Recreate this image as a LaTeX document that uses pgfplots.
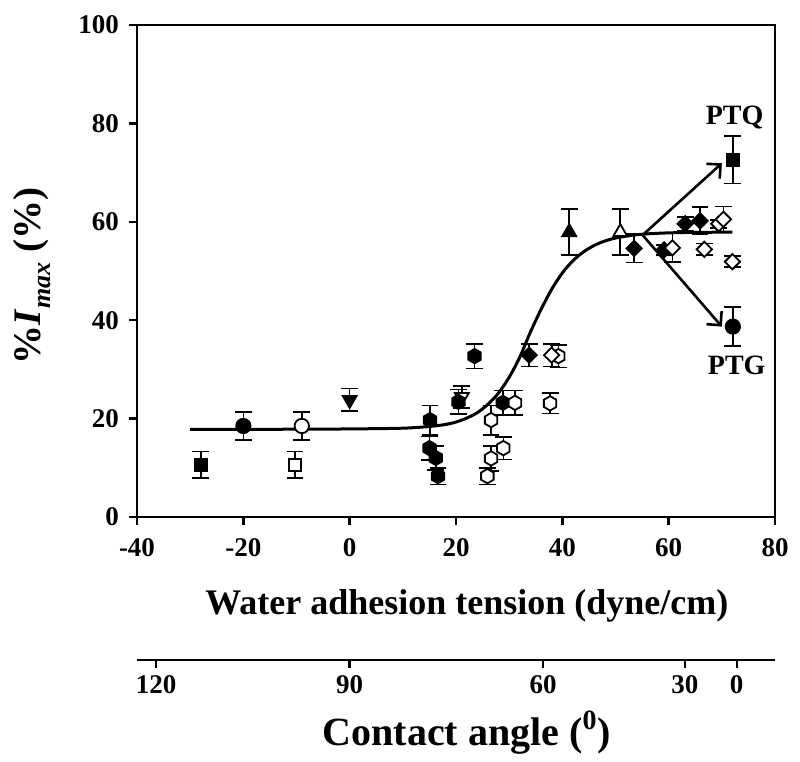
\documentclass[border=0pt]{standalone}
\usepackage{pgfplots}
\pgfplotsset{compat=1.18}
\usepackage{pgfplotstable}
\usepackage{fontspec}
\setmainfont{Liberation Serif}
\usetikzlibrary{arrows.meta}

\pgfdeclareplotmark{hexagon*}{%
  \pgfpathmoveto{\pgfpointpolar{90}{\pgfplotmarksize}}%
  \pgfpathlineto{\pgfpointpolar{150}{\pgfplotmarksize}}%
  \pgfpathlineto{\pgfpointpolar{210}{\pgfplotmarksize}}%
  \pgfpathlineto{\pgfpointpolar{270}{\pgfplotmarksize}}%
  \pgfpathlineto{\pgfpointpolar{330}{\pgfplotmarksize}}%
  \pgfpathlineto{\pgfpointpolar{30}{\pgfplotmarksize}}%
  \pgfpathclose
  \pgfusepathqfillstroke}

\pgfplotstableread{
x y e
-28.0 10.6 2.7
72.07 72.6 4.8
}\fsquare
\pgfplotstableread{
x y e
-10.3 10.6 2.7
}\osquare
\pgfplotstableread{
x y e
-20.0 18.5 2.9
72.07 38.7 4.0
}\fcircle
\pgfplotstableread{
x y e
-9.0 18.5 2.9
}\ocircle
\pgfplotstableread{
x y e
0.0 23.8 2.3
}\fdown
\pgfplotstableread{
x y e
21.1 24.4 2.2
}\odown
\pgfplotstableread{
x y e
15.1 19.7 3.0
15.0 14.0 2.4
16.2 12.0 2.4
16.6 8.3 1.7
20.45 23.4 2.5
23.5 32.7 2.5
28.8 23.2 2.5
}\fhex
\pgfplotstableread{
x y e
26.6 19.7 3.0
26.6 11.9 2.5
28.9 14.0 2.3
25.9 8.3 1.7
31.1 23.2 2.5
39.25 32.7 2.3
37.7 23.1 2.1
}\ohex
\pgfplotstableread{
x y e
33.75 32.9 2.3
53.5 54.6 2.9
59.15 54.3 1.0
63.1 59.6 1.35
65.9 60.2 2.8
}\fdiam
\pgfplotstableread{
x y e
38.0 32.9 2.3
60.7 54.7 2.9
66.7 54.4 1.2
69.4 59.6 0.8
70.3 60.5 2.6
72.0 51.9 1.1
}\odiam
\pgfplotstableread{
x y e
41.3 57.9 4.7
}\fup
\pgfplotstableread{
x y e
50.9 57.9 4.7
}\oup

\pgfplotsset{
  pts/.style={only marks, black, line width=0.9pt,
    error bars/y dir=both, error bars/y explicit,
    error bars/error bar style={line width=0.8pt, black},
    error bars/error mark options={rotate=90, line width=0.8pt, mark size=4.2pt, black}},
}

\begin{document}
\begin{tikzpicture}
\path (-68.5pt,-122.5pt) rectangle (331.5pt,258.5pt);
\begin{axis}[
  at={(0,0)}, anchor=south west,
  scale only axis, width=319pt, height=246pt,
  xmin=-40, xmax=80, ymin=0, ymax=100,
  xtick={-40,-20,0,20,40,60,80}, xticklabels={-40,-20,0,20,40,60,80},
  ytick={0,20,40,60,80,100}, yticklabels={0,20,40,60,80,100},
  tick align=outside, tick pos=left,
  major tick length=4pt,
  axis line style={line width=1.4pt},
  every tick/.style={black, line width=1.2pt},
  tick label style={font=\fontsize{13.5}{14}\selectfont\bfseries},
  xticklabel style={yshift=-3pt},
  yticklabel style={xshift=-1.5pt},
  xlabel={Water adhesion tension (dyne/cm)},
  xlabel style={font=\fontsize{18}{20}\selectfont\bfseries, at={(axis description cs:0.517,-0.199)}, anchor=base},
  ylabel={\%\textit{I}\raisebox{-0.55ex}{\fontsize{13}{13}\selectfont\textit{max}} (\%)},
  ylabel style={font=\fontsize{19.5}{20}\selectfont\bfseries, at={(axis description cs:-0.165,0.49)}, anchor=center},
  clip=false,
]
\addplot[line width=1.5pt, smooth, no marks] coordinates {
(-30,17.8) (-20,17.8) (-10,17.85) (0,17.9) (10,18.05) (15,18.4) (18,18.8)
(20,19.3) (22,20.1) (24,21.2) (26,22.9) (28,25.2) (30,28.4) (32,32.5)
(34,37.6) (36,42.2) (38,46.3) (40,49.6) (42,52.1) (44,53.9) (46,55.2)
(48,56.1) (50,56.7) (53,57.25) (56,57.55) (60,57.75) (65,57.85) (72,57.9)
};
\addplot[pts, mark=square*, mark size=3pt] table[x=x,y=y,y error=e] {\fsquare};
\addplot[pts, mark=square*, mark size=3pt, mark options={fill=white}] table[x=x,y=y,y error=e] {\osquare};
\addplot[pts, mark=*, mark size=3.6pt] table[x=x,y=y,y error=e] {\fcircle};
\addplot[pts, mark=*, mark size=3.6pt, mark options={fill=white}] table[x=x,y=y,y error=e] {\ocircle};
\addplot[pts, mark=triangle*, mark size=4pt, mark options={rotate=180}] table[x=x,y=y,y error=e] {\fdown};
\addplot[pts, mark=triangle*, mark size=4pt, mark options={rotate=180, fill=white}] table[x=x,y=y,y error=e] {\odown};
\addplot[pts, mark=hexagon*, mark size=3.6pt] table[x=x,y=y,y error=e] {\fhex};
\addplot[pts, mark=hexagon*, mark size=3.6pt, mark options={fill=white}] table[x=x,y=y,y error=e] {\ohex};
\addplot[pts, mark=square*, mark size=2.7pt, mark options={rotate=45}] table[x=x,y=y,y error=e] {\fdiam};
\addplot[pts, mark=square*, mark size=2.7pt, mark options={rotate=45, fill=white}] table[x=x,y=y,y error=e] {\odiam};
\addplot[pts, mark=triangle*, mark size=4pt] table[x=x,y=y,y error=e] {\fup};
\addplot[pts, mark=triangle*, mark size=4pt, mark options={fill=white}] table[x=x,y=y,y error=e] {\oup};
\draw[line width=1.3pt, -{Straight Barb[length=5pt,width=10pt]}] (axis cs:55.1,57.3) -- (axis cs:70,71.9);
\draw[line width=1.3pt, -{Straight Barb[length=5pt,width=10pt]}] (axis cs:55.1,57.3) -- (axis cs:70,38.7);
\node[font=\fontsize{14}{14}\selectfont\bfseries] at (axis cs:72.4,81.3) {PTQ};
\node[font=\fontsize{14}{14}\selectfont\bfseries] at (axis cs:72.8,30.9) {PTG};
\end{axis}
\begin{axis}[
  at={(0,-71.5pt)}, anchor=south west,
  scale only axis, width=319pt, height=10pt,
  xmin=-40, xmax=80, ymin=0, ymax=1,
  axis x line*=bottom, axis y line=none,
  xtick={-36.4,0,36.4,63.05,72.8}, xticklabels={120,90,60,30,0},
  tick align=outside,
  major tick length=4pt,
  axis line style={line width=1.4pt},
  every tick/.style={black, line width=1.2pt},
  tick label style={font=\fontsize{13.5}{14}\selectfont\bfseries},
  xlabel={Contact angle (\textsuperscript{0})},
  xlabel style={font=\fontsize{20}{22}\selectfont\bfseries, at={(axis description cs:0.517,0)}, yshift=-42.5pt, anchor=base},
]
\addplot[draw=none] coordinates {(0,0.5)};
\end{axis}
\end{tikzpicture}
\end{document}
